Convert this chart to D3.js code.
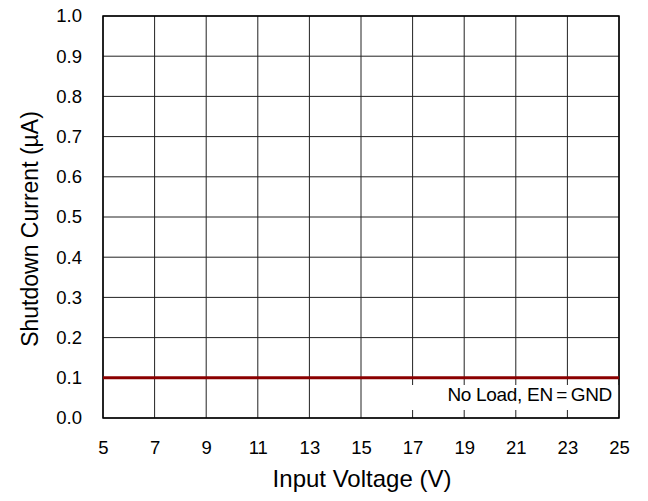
<!DOCTYPE html>
<html>
<head>
<meta charset="utf-8">
<style>
  body { margin: 0; background: #fff; }
  text { font-family: "Liberation Sans", Arial, sans-serif; }
</style>
<script src="https://d3js.org/d3.v7.min.js"></script>
</head>
<body>
<svg id="chart" width="648" height="501"></svg>
<script>
var voltage = [5, 7, 9, 11, 13, 15, 17, 19, 21, 23, 25];
var current = [0.1, 0.1, 0.1, 0.1, 0.1, 0.1, 0.1, 0.1, 0.1, 0.1, 0.1];
var xTicks = [5, 7, 9, 11, 13, 15, 17, 19, 21, 23, 25];
var yTicks = [0, 0.1, 0.2, 0.3, 0.4, 0.5, 0.6, 0.7, 0.8, 0.9, 1.0];

var svg = d3.select("#chart");
var plotL = 103, plotR = 619, plotT = 16, plotB = 418;

var x = d3.scaleLinear().domain([5, 25]).range([plotL, plotR]);
var y = d3.scaleLinear().domain([0, 1]).range([plotB, plotT]);

// grid
svg.append("g").selectAll("line").data(xTicks).enter().append("line")
  .attr("x1", d => x(d)).attr("x2", d => x(d))
  .attr("y1", plotT).attr("y2", plotB)
  .attr("stroke", "#222").attr("stroke-width", 1);
svg.append("g").selectAll("line").data(yTicks).enter().append("line")
  .attr("x1", plotL).attr("x2", plotR)
  .attr("y1", d => y(d)).attr("y2", d => y(d))
  .attr("stroke", "#222").attr("stroke-width", 1);

// axes
var xAxis = svg.append("g").attr("transform", "translate(0," + plotB + ")")
  .call(d3.axisBottom(x).tickValues(xTicks).tickSize(0).tickPadding(23).tickFormat(d3.format("d")));
var yAxis = svg.append("g").attr("transform", "translate(" + plotL + ",0)")
  .call(d3.axisLeft(y).tickValues(yTicks).tickSize(0).tickPadding(21).tickFormat(d3.format(".1f")));
[xAxis, yAxis].forEach(a => {
  a.select(".domain").remove();
  a.selectAll("text").attr("font-size", 18.5).attr("fill", "#000")
    .style("font-family", "'Liberation Sans', Arial, sans-serif");
});

// annotation with white background (covers grid lines)
var note = svg.append("g");
note.append("rect")
  .attr("x", 411).attr("y", 385)
  .attr("width", plotR - 411).attr("height", 25)
  .attr("fill", "#fff");
note.append("text")
  .attr("x", 612).attr("y", 401)
  .attr("text-anchor", "end")
  .attr("font-size", 19).attr("letter-spacing", -0.3)
  .text("No Load, EN\u2009=\u2009GND");

// frame
svg.append("rect")
  .attr("x", plotL).attr("y", plotT)
  .attr("width", plotR - plotL).attr("height", plotB - plotT)
  .attr("fill", "none").attr("stroke", "#000").attr("stroke-width", 1.5);

// data line
var line = d3.line().x((d, i) => x(voltage[i])).y(d => y(d));
svg.append("path")
  .datum(current)
  .attr("d", line)
  .attr("fill", "none")
  .attr("stroke", "#8b0000")
  .attr("stroke-width", 3);

// axis titles
svg.append("text")
  .attr("x", 362).attr("y", 487)
  .attr("text-anchor", "middle").attr("font-size", 24)
  .text("Input Voltage (V)");
svg.append("text")
  .attr("transform", "translate(38,229) rotate(-90)")
  .attr("text-anchor", "middle").attr("font-size", 23)
  .text("Shutdown Current (\u00b5A)");
</script>
</body>
</html>
